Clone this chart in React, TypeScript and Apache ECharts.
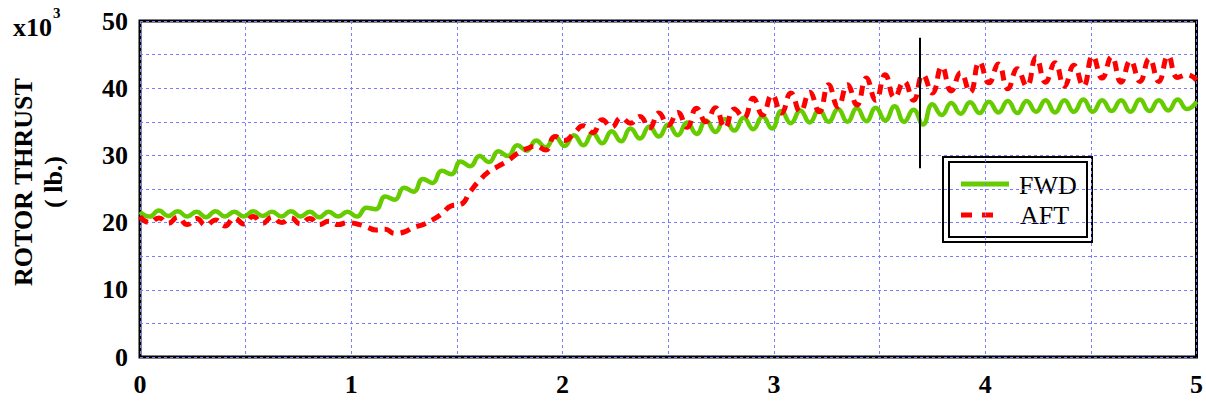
import React, { useEffect, useRef } from "react";
import * as echarts from "echarts";

const SAMPLE_STEP = 5 / 112;

// FWD rotor thrust (x10^3 lb), one value per sample
const fwdThrust = [
  21.6, 20.9, 21.8, 21.0, 21.7, 20.9, 21.6, 20.8, 21.7, 20.9, 21.6, 20.9, 21.7, 21.0, 21.6, 20.9, 21.7, 20.9, 21.6, 20.8, 21.6, 20.9, 21.6, 20.9,
  22.2, 22.0, 23.9, 23.4, 25.2, 24.6, 26.5, 25.9, 27.7, 27.2, 29.1, 28.4, 29.9, 29.0, 30.6, 29.9, 31.5, 30.7, 32.2, 31.2, 32.8, 31.4,
  33.0, 31.5, 33.3, 31.8, 33.6, 32.1, 34.0, 32.5, 34.3, 32.8, 34.6, 33.0, 34.9, 33.2, 35.2, 33.5, 35.4, 33.7, 35.6, 33.9, 35.8, 34.0,
  36.6, 34.8, 36.7, 34.9, 36.8, 35.0, 36.9, 35.0, 37.0, 35.1, 37.1, 35.2, 37.3, 35.0, 36.8, 34.6,
  37.6, 36.0, 37.8, 36.2, 37.9, 36.3, 38.0, 36.4, 38.1, 36.3, 38.1, 36.5, 38.2, 36.4, 38.2, 36.5, 38.3, 36.5, 38.2, 36.6, 38.2, 36.5, 38.3, 36.6, 38.2, 36.7, 38.3, 36.9, 38.0,
];

// AFT rotor thrust (x10^3 lb), one value per sample
const aftThrust = [
  20.9, 20.0, 20.7, 19.9, 20.8, 19.7, 20.6, 19.6, 20.4, 19.5, 20.7, 19.8, 20.9, 19.9, 20.8, 20.0, 20.7, 19.8, 20.6, 19.7, 20.2, 19.7, 20.0, 19.8,
  19.4, 18.9, 19.0, 18.4, 18.6, 19.3, 19.7, 20.4, 21.3, 22.5, 22.7, 24.6, 26.3, 27.6, 28.4, 29.2, 30.3, 31.0, 31.4, 30.8, 32.8, 32.2,
  33.3, 34.4, 33.4, 35.3, 34.2, 35.6, 34.8, 35.8, 34.1, 36.3, 34.5, 36.4, 34.2, 37.0, 35.0, 37.1, 34.1, 36.9, 35.6, 38.5, 36.0, 39.0,
  36.3, 39.3, 36.5, 39.4, 36.5, 40.5, 37.2, 40.5, 37.5, 41.5, 38.2, 42.0, 38.6, 41.0, 38.2, 42.0, 39.3, 43.2, 39.6, 42.3, 39.4, 43.9,
  40.8, 43.6, 39.9, 42.9, 40.3, 44.6, 40.9, 43.8, 40.3, 43.4, 40.3, 44.8, 41.5, 44.7, 40.9, 44.1, 41.0, 44.4, 41.0, 44.8, 41.6, 42.0, 41.2,
];

const xTickLabels = [0, 1, 2, 3, 4, 5];
const yTickLabels = [0, 10, 20, 30, 40, 50];

// Vertical event marker
const markerTime = 3.69;
const markerFrom = 28.1;
const markerTo = 47.5;

const SERIF = "'Liberation Serif', 'Times New Roman', serif";

export default function App() {
  const ref = useRef<HTMLDivElement>(null);

  useEffect(() => {
    document.body.style.margin = "0";
    const chart = echarts.init(ref.current!, null, { renderer: "svg" });
    const toPairs = (vals: number[]) => vals.map((v, i) => [i * SAMPLE_STEP, v]);
    const near = (list: number[], v: number) => list.some((t) => Math.abs(t - v) < 1e-6);
    const gridLine = { show: true, lineStyle: { color: "#7b7bff", type: [3, 3], width: 1 } };
    const tickFont = { fontFamily: SERIF, fontWeight: "bold", fontSize: 26, color: "#000" };

    chart.setOption({
      animation: false,
      backgroundColor: "#fff",
      grid: {
        left: 140,
        right: 7,
        top: 21,
        bottom: 46,
        show: true,
        borderColor: "#000",
        borderWidth: 3,
        backgroundColor: "transparent",
      },
      xAxis: {
        type: "value",
        min: 0,
        max: 5,
        interval: 0.5,
        axisLine: { show: false },
        axisTick: { show: false },
        axisLabel: {
          ...tickFont,
          margin: 14,
          formatter: (v: number) => (near(xTickLabels, v) ? String(Math.round(v)) : ""),
        },
        splitLine: gridLine,
      },
      yAxis: {
        type: "value",
        min: 0,
        max: 50,
        interval: 5,
        axisLine: { show: false },
        axisTick: { show: false },
        axisLabel: {
          ...tickFont,
          margin: 12,
          formatter: (v: number) => (near(yTickLabels, v) ? String(Math.round(v)) : ""),
        },
        splitLine: gridLine,
      },
      series: [
        {
          name: "FWD",
          type: "line",
          data: toPairs(fwdThrust),
          showSymbol: false,
          smooth: 0.5,
          lineStyle: { color: "#66cc00", width: 4.5 },
          z: 3,
        },
        {
          name: "AFT",
          type: "line",
          data: toPairs(aftThrust),
          showSymbol: false,
          smooth: 0.5,
          lineStyle: { color: "#ff0000", width: 5, type: [10, 7] },
          z: 4,
          markLine: {
            silent: true,
            symbol: ["none", "none"],
            label: { show: false },
            lineStyle: { color: "#000", width: 2, type: "solid" },
            data: [[{ coord: [markerTime, markerFrom] }, { coord: [markerTime, markerTo] }]],
          },
        },
      ],
      graphic: [
        {
          type: "text",
          x: 13,
          y: 27,
          style: { text: "x10", font: `bold 26px ${SERIF}`, fill: "#000", align: "left", verticalAlign: "middle", textAlign: "left", textVerticalAlign: "middle" },
        },
        {
          type: "text",
          x: 53,
          y: 13,
          style: { text: "3", font: `bold 15px ${SERIF}`, fill: "#000", align: "left", verticalAlign: "middle", textAlign: "left", textVerticalAlign: "middle" },
        },
        {
          type: "text",
          x: 23,
          y: 182,
          rotation: Math.PI / 2,
          style: { text: "ROTOR THRUST", font: `bold 26px ${SERIF}`, fill: "#000", align: "center", verticalAlign: "middle", textAlign: "center", textVerticalAlign: "middle" },
        },
        {
          type: "text",
          x: 53,
          y: 182,
          rotation: Math.PI / 2,
          style: { text: "( lb.)", font: `bold 26px ${SERIF}`, fill: "#000", align: "center", verticalAlign: "middle", textAlign: "center", textVerticalAlign: "middle" },
        },
        {
          type: "group",
          z: 100,
          children: [
            { type: "rect", shape: { x: 943, y: 157, width: 149, height: 85 }, style: { fill: "#fff", stroke: "#000", lineWidth: 2 } },
            { type: "rect", shape: { x: 949, y: 162, width: 138, height: 75 }, style: { fill: "none", stroke: "#000", lineWidth: 2 } },
            { type: "line", shape: { x1: 961, y1: 184, x2: 1009, y2: 184 }, style: { stroke: "#66cc00", lineWidth: 5 } },
            { type: "line", shape: { x1: 961, y1: 215, x2: 993, y2: 215 }, style: { stroke: "#ff0000", lineWidth: 5, lineDash: [11, 10] } },
            { type: "text", x: 1019, y: 185, style: { text: "FWD", font: `26px ${SERIF}`, fill: "#000", align: "left", verticalAlign: "middle", textAlign: "left", textVerticalAlign: "middle" } },
            { type: "text", x: 1020, y: 215, style: { text: "AFT", font: `26px ${SERIF}`, fill: "#000", align: "left", verticalAlign: "middle", textAlign: "left", textVerticalAlign: "middle" } },
          ],
        },
      ],
    });

    return () => chart.dispose();
  }, []);

  return <div ref={ref} style={{ position: "absolute", left: 0, top: 0, width: 1206, height: 403 }} />;
}
